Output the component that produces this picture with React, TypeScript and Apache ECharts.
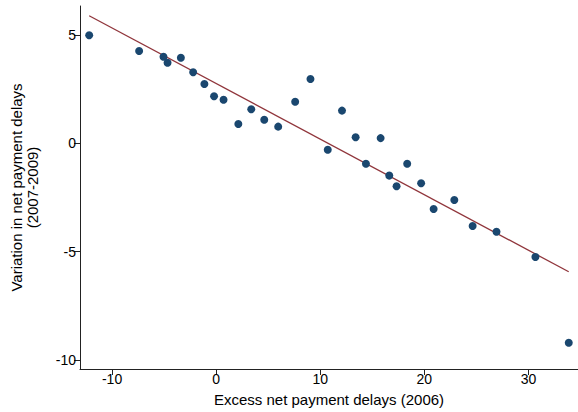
import React, { useEffect, useRef } from "react";
import * as echarts from "echarts";

const excessDelays2006 = [
  -12.2, -7.4, -5.06, -4.67, -3.39, -2.21, -1.13, -0.2, 0.71, 2.13,
  3.37, 4.62, 5.96, 7.59, 9.06, 10.72, 12.09, 13.4, 14.39, 15.8,
  16.63, 17.33, 18.35, 19.69, 20.89, 22.88, 24.64, 26.93, 30.67, 33.87,
];
const variationDelays = [
  4.99, 4.26, 4.0, 3.72, 3.95, 3.28, 2.74, 2.17, 2.01, 0.89,
  1.57, 1.09, 0.77, 1.92, 2.97, -0.3, 1.51, 0.28, -0.94, 0.24,
  -1.49, -1.98, -0.94, -1.84, -3.03, -2.62, -3.82, -4.08, -5.25, -9.21,
];
const fitX = [-12.2, 33.87];
const fitY = [5.89, -5.93];
const xTicks = [-10, 0, 10, 20, 30];
const yTicks = [-10, -5, 0, 5];

const FONT = "'Liberation Sans', Arial, Helvetica, sans-serif";

export default function App() {
  const ref = useRef<HTMLDivElement>(null);
  useEffect(() => {
    if (!ref.current) return;
    const chart = echarts.init(ref.current, undefined, { renderer: "svg" });
    const points = excessDelays2006.map((x, i) => [x, variationDelays[i]]);
    const fit = fitX.map((x, i) => [x, fitY[i]]);
    chart.setOption({
      animation: false,
      backgroundColor: "#fff",
      grid: { left: 78.5, right: 0, top: 6, bottom: 42.7, containLabel: false },
      xAxis: {
        type: "value",
        min: -13.08,
        max: 34.76,
        name: "Excess net payment delays (2006)",
        nameLocation: "middle",
        nameGap: 23,
        nameTextStyle: { fontFamily: FONT, fontSize: 15, color: "#000" },
        axisLine: { show: true, onZero: false, lineStyle: { color: "#222", width: 1 } },
        axisTick: { show: true, length: 6, customValues: xTicks, lineStyle: { color: "#222" } },
        axisLabel: {
          customValues: xTicks,
          fontFamily: FONT,
          fontSize: 14,
          color: "#000",
          margin: 3,
        },
        splitLine: { show: false },
      },
      yAxis: {
        type: "value",
        min: -10.42,
        max: 6.34,
        name: "Variation in net payment delays\n(2007-2009)",
        nameLocation: "middle",
        nameGap: 40,
        nameRotate: 90,
        nameTextStyle: { fontFamily: FONT, fontSize: 15, color: "#000", lineHeight: 16, align: "center" },
        axisLine: { show: true, onZero: false, lineStyle: { color: "#222", width: 1 } },
        axisTick: { show: true, length: 6, customValues: yTicks, lineStyle: { color: "#222" } },
        axisLabel: {
          customValues: yTicks,
          fontFamily: FONT,
          fontSize: 14,
          color: "#000",
          margin: 4,
        },
        splitLine: { show: false },
      },
      series: [
        {
          type: "scatter",
          data: points,
          symbolSize: 8,
          itemStyle: { color: "#1a476f", opacity: 1 },
          z: 3,
        },
        {
          type: "line",
          data: fit,
          symbol: "none",
          lineStyle: { color: "#90353b", width: 1.3 },
          z: 2,
        },
      ],
    });
    return () => chart.dispose();
  }, []);
  return (
    <div
      ref={ref}
      style={{ position: "absolute", left: 0, top: 0, width: 578, height: 412 }}
    />
  );
}
